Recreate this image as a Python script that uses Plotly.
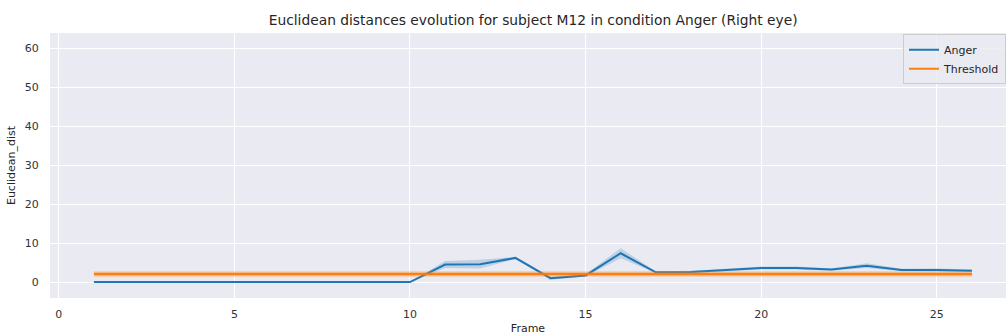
import plotly.graph_objects as go

frames = list(range(1, 27))
anger_mean = [0, 0, 0, 0, 0, 0, 0, 0, 0, 0,
              4.5, 4.6, 6.2, 1.0, 1.7, 7.4, 2.5, 2.6, 3.1, 3.6,
              3.6, 3.2, 4.2, 3.1, 3.1, 2.9]
anger_low = [0, 0, 0, 0, 0, 0, 0, 0, 0, 0,
             3.6, 3.5, 5.9, 0.6, 1.4, 6.1, 2.3, 2.3, 2.8, 3.2,
             3.2, 2.9, 3.6, 2.8, 2.7, 2.6]
anger_high = [0, 0, 0, 0, 0, 0, 0, 0, 0, 0,
              5.4, 5.7, 6.5, 1.3, 2.0, 8.7, 2.7, 2.9, 3.4, 4.0,
              4.0, 3.5, 4.8, 3.4, 3.5, 3.2]
threshold_mean = [2.05] * 26
threshold_low = [1.4] * 26
threshold_high = [2.7] * 26

title = "Euclidean distances evolution for subject M12 in condition Anger (Right eye)"

BLUE = "#1f77b4"
ORANGE = "#ff7f0e"

fig = go.Figure()

fig.add_trace(go.Scatter(x=frames, y=anger_mean, mode="lines", name="Anger",
                         line=dict(color=BLUE, width=2), legendrank=1))
fig.add_trace(go.Scatter(x=frames, y=threshold_mean, mode="lines", name="Threshold",
                         line=dict(color=ORANGE, width=2), legendrank=2))

# Anger CI band
fig.add_trace(go.Scatter(x=frames, y=anger_high, mode="lines", line=dict(width=0),
                         showlegend=False, hoverinfo="skip"))
fig.add_trace(go.Scatter(x=frames, y=anger_low, mode="lines", line=dict(width=0),
                         fill="tonexty", fillcolor="rgba(31,119,180,0.22)",
                         showlegend=False, hoverinfo="skip"))
# Threshold band
fig.add_trace(go.Scatter(x=frames, y=threshold_high, mode="lines", line=dict(width=0),
                         showlegend=False, hoverinfo="skip"))
fig.add_trace(go.Scatter(x=frames, y=threshold_low, mode="lines", line=dict(width=0),
                         fill="tonexty", fillcolor="rgba(255,127,14,0.45)",
                         showlegend=False, hoverinfo="skip"))

fig.update_layout(
    width=1006, height=336,
    margin=dict(l=50, r=0, t=33, b=38),
    paper_bgcolor="white",
    plot_bgcolor="#EAEAF2",
    font=dict(family="DejaVu Sans", size=11, color="#333333"),
    title=dict(text=title, x=0.53, xanchor="center", y=0.94, yanchor="middle",
               font=dict(size=13.8, color="#262626")),
    legend=dict(x=1.0, y=0.995, xanchor="right", yanchor="top", traceorder="normal",
                bgcolor="rgba(234,234,242,0.8)", bordercolor="#cccccc", borderwidth=1,
                font=dict(size=11, color="#262626"), tracegroupgap=0),
    showlegend=True,
)

fig.update_xaxes(
    range=[-0.25, 26.97],
    tickmode="array", tickvals=[0, 5, 10, 15, 20, 25],
    showgrid=True, gridcolor="white", gridwidth=1, zeroline=False,
    ticks="outside", ticklen=6, tickcolor="rgba(0,0,0,0)",
    title=dict(text="Frame", standoff=4, font=dict(size=11, color="#262626")),
    showline=False,
)
fig.update_yaxes(
    range=[-4.1, 64.0],
    tickmode="array", tickvals=[0, 10, 20, 30, 40, 50, 60],
    showgrid=True, gridcolor="white", gridwidth=1, zeroline=False,
    ticks="outside", ticklen=8, tickcolor="rgba(0,0,0,0)",
    title=dict(text="Euclidean_dist", standoff=6, font=dict(size=11, color="#262626")),
    showline=False,
)

fig.write_html("out.html")
